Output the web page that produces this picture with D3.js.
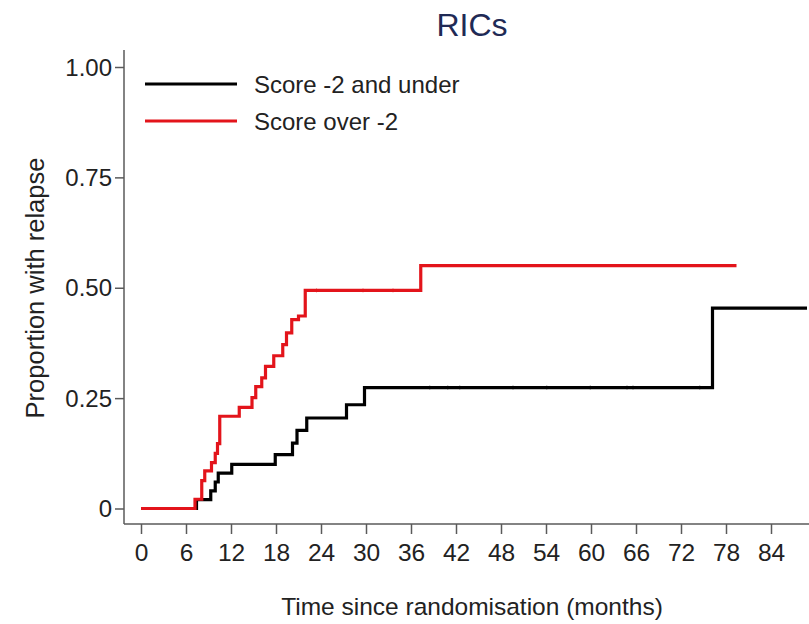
<!DOCTYPE html>
<html>
<head>
<meta charset="utf-8">
<script src="https://cdn.jsdelivr.net/npm/d3@7/dist/d3.min.js"></script>
<style>
  html, body { margin: 0; padding: 0; background: #fff; }
  svg { display: block; font-family: "Liberation Sans", Arial, sans-serif; }
</style>
</head>
<body>
<svg id="chart" width="809" height="624"></svg>
<script>
// ---- data ----
const title = "RICs";
const xTicks = [0, 6, 12, 18, 24, 30, 36, 42, 48, 54, 60, 66, 72, 78, 84];
const yTicks = [0, 0.25, 0.5, 0.75, 1];
const yTickLabels = ["0", "0.25", "0.50", "0.75", "1.00"];
const seriesNames = ["Score -2 and under", "Score over -2"];
const seriesColors = ["#000000", "#e3141b"];

// step functions: [time (months), cumulative proportion]
const blackSteps = [
  [0, 0], [7.4, 0.02], [9.3, 0.04], [9.9, 0.06], [10.3, 0.08], [12.1, 0.10],
  [17.9, 0.122], [20.2, 0.148], [20.8, 0.177], [22.1, 0.205], [27.4, 0.235],
  [29.8, 0.274], [76.2, 0.454], [88.8, 0.454]
];
const redSteps = [
  [0, 0], [7.2, 0.021], [8.1, 0.063], [8.5, 0.085], [9.4, 0.104], [9.9, 0.125],
  [10.2, 0.147], [10.5, 0.209], [13.1, 0.229], [14.8, 0.251], [15.3, 0.276],
  [16.1, 0.296], [16.6, 0.322], [17.7, 0.346], [18.9, 0.371], [19.4, 0.398],
  [20.1, 0.428], [21.0, 0.436], [21.9, 0.494], [37.3, 0.55], [79.4, 0.55]
];
// censoring marks (time)
const blackCensor = [38.5, 40.9, 42.5, 49.6, 54.1, 59.9, 64.8, 65.6, 74.5];
const redCensor = [23.4, 29.6, 33.6];

// ---- drawing ----
const svg = d3.select("#chart");
const x = d3.scaleLinear().domain([0, 84]).range([141, 771]);
const y = d3.scaleLinear().domain([0, 1]).range([508.5, 67]);
const axisX = 124, axisY = 524;
const axisColor = "#5a5a5a";

// title
svg.append("text").attr("x", 472).attr("y", 36).attr("text-anchor", "middle")
  .attr("font-size", 32).attr("fill", "#1f2a55").text(title);

// y axis
const yAxis = svg.append("g").attr("transform", `translate(${axisX},0)`)
  .call(d3.axisLeft(y).tickValues(yTicks).tickSize(9).tickPadding(3)
        .tickFormat((d, i) => yTickLabels[i]));
yAxis.select(".domain").remove();
yAxis.append("line").attr("x1", 0).attr("x2", 0).attr("y1", 50).attr("y2", axisY)
  .attr("stroke", axisColor).attr("stroke-width", 1.5);
yAxis.selectAll(".tick line").attr("stroke", axisColor).attr("stroke-width", 1.5);
yAxis.selectAll(".tick text").attr("font-size", 24).attr("fill", "#222")
  .attr("font-family", "Liberation Sans, Arial, sans-serif").attr("dy", "0.34em");

// x axis
const xAxis = svg.append("g").attr("transform", `translate(0,${axisY})`)
  .call(d3.axisBottom(x).tickValues(xTicks).tickSize(10).tickPadding(10));
xAxis.select(".domain").remove();
xAxis.append("line").attr("x1", axisX).attr("x2", 809).attr("y1", 0).attr("y2", 0)
  .attr("stroke", axisColor).attr("stroke-width", 1.5);
xAxis.selectAll(".tick line").attr("stroke", axisColor).attr("stroke-width", 1.5);
xAxis.selectAll(".tick text").attr("font-size", 24.5).attr("fill", "#222")
  .attr("font-family", "Liberation Sans, Arial, sans-serif");

// axis titles
svg.append("text").attr("x", 472).attr("y", 615).attr("text-anchor", "middle")
  .attr("font-size", 24.5).attr("fill", "#222").text("Time since randomisation (months)");
svg.append("text").attr("transform", "translate(44,288) rotate(-90)")
  .attr("text-anchor", "middle").attr("font-size", 25.5).attr("fill", "#222")
  .text("Proportion with relapse");

// step curves
const line = d3.line().x(d => x(d[0])).y(d => y(d[1])).curve(d3.curveStepAfter);
function valueAt(steps, t) {
  let v = 0;
  for (const s of steps) if (s[0] <= t) v = s[1];
  return v;
}
[[blackSteps, blackCensor, seriesColors[0]], [redSteps, redCensor, seriesColors[1]]]
  .forEach(([steps, cens, col]) => {
    svg.append("path").datum(steps).attr("d", line).attr("fill", "none")
      .attr("stroke", col).attr("stroke-width", 3.2).attr("stroke-linejoin", "miter");
    svg.selectAll(null).data(cens).enter().append("line")
      .attr("x1", d => x(d)).attr("x2", d => x(d))
      .attr("y1", d => y(valueAt(steps, d)) - 2).attr("y2", d => y(valueAt(steps, d)) + 2)
      .attr("stroke", col).attr("stroke-width", 0.8).attr("opacity", 0.7);
  });

// legend
const legend = svg.append("g");
seriesNames.forEach((name, i) => {
  const ly = 84 + i * 37;
  legend.append("line").attr("x1", 145).attr("x2", 237).attr("y1", ly).attr("y2", ly)
    .attr("stroke", seriesColors[i]).attr("stroke-width", 3.2);
  legend.append("text").attr("x", 254).attr("y", ly + 8.5).attr("font-size", 24)
    .attr("fill", "#222").text(name);
});
</script>
</body>
</html>
